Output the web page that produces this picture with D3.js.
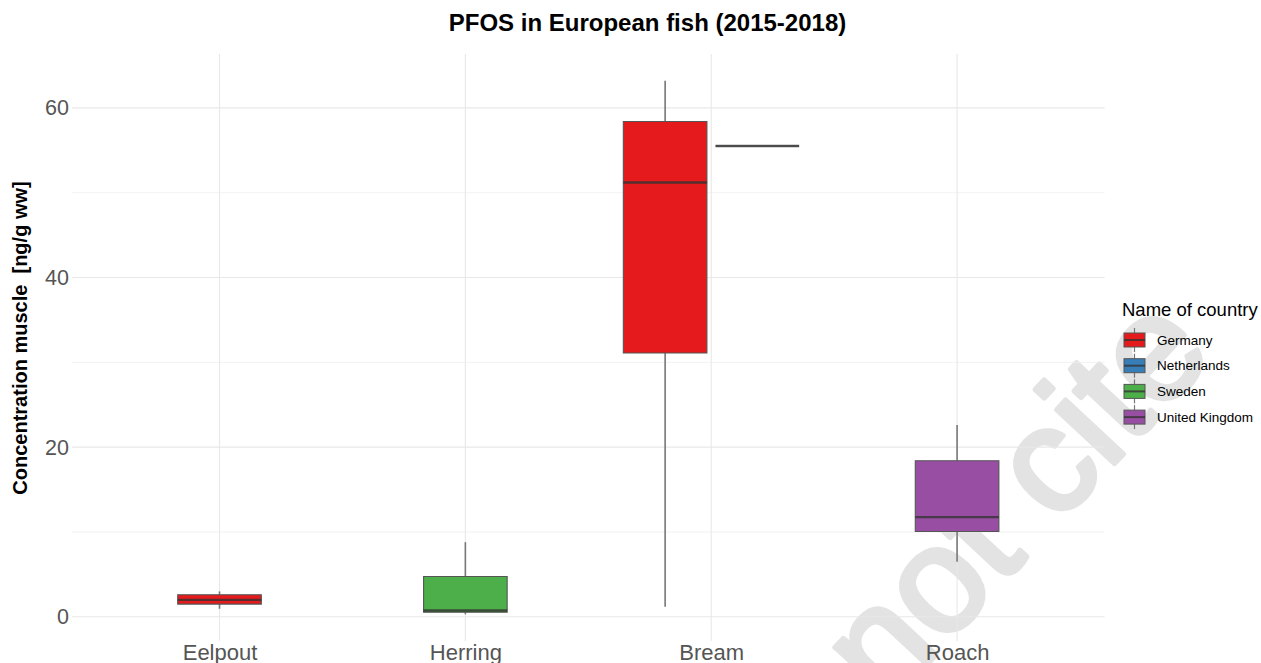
<!DOCTYPE html>
<html>
<head>
<meta charset="utf-8">
<script src="https://cdn.jsdelivr.net/npm/d3@7"></script>
<style>
  html, body { margin: 0; padding: 0; background: #fff; }
  svg { display: block; font-family: "Liberation Sans", Arial, sans-serif; }
</style>
</head>
<body>
<svg id="chart" width="1261" height="663"></svg>
<script>
// ---- Data ----
const species = ["Eelpout", "Herring", "Bream", "Roach"];
const countries = ["Germany", "Netherlands", "Sweden", "United Kingdom"];
const countryColors = ["#E41A1C", "#377EB8", "#4DAF4A", "#984EA3"];

const boxSpecies = ["Eelpout", "Herring", "Bream", "Bream", "Roach"];
const boxCountry = ["Germany", "Sweden", "Germany", "Netherlands", "United Kingdom"];
const boxDodge = [0, 0, -1, 1, 0]; // dodge slot within species group
const lowerWhisker = [0.95, 0.3, 1.2, 55.5, 6.5];
const q1 = [1.5, 0.55, 31.1, 55.5, 10.05];
const median = [2.0, 0.75, 51.2, 55.5, 11.75];
const q3 = [2.6, 4.75, 58.4, 55.5, 18.4];
const upperWhisker = [3.0, 8.8, 63.2, 55.5, 22.6];

const yMajorTicks = [0, 20, 40, 60];
const yMinorTicks = [10, 30, 50];

const titleText = "PFOS in European fish (2015-2018)";
const yTitleText = "Concentration muscle  [ng/g ww]";
const legendTitle = "Name of country";
const watermarkText = "not cite";

// ---- Layout ----
const svg = d3.select("#chart");
const panel = { left: 72, right: 1104.6, top: 54, bottom: 641 };

const x = d3.scalePoint().domain(species).range([panel.left, panel.right]).padding(0.6);
const step = x.step();
const y = d3.scaleLinear().domain([-2.85, 66.35]).range([panel.bottom, panel.top]);
const color = d3.scaleOrdinal().domain(countries).range(countryColors);

// watermark
svg.append("text")
  .attr("transform", "translate(1022,505) rotate(-47)")
  .attr("text-anchor", "middle")
  .attr("dominant-baseline", "middle")
  .style("font-size", "150px")
  .style("fill", "#e3e3e3")
  .style("stroke", "#e3e3e3")
  .style("stroke-width", 5)
  .style("stroke-linejoin", "round")
  .text(watermarkText);

// gridlines
const grid = svg.append("g");
grid.selectAll(".minor").data(yMinorTicks).join("line")
  .attr("x1", panel.left).attr("x2", panel.right)
  .attr("y1", d => y(d)).attr("y2", d => y(d))
  .attr("stroke", "#efefef").attr("stroke-width", 0.8);
grid.selectAll(".major").data(yMajorTicks).join("line")
  .attr("x1", panel.left).attr("x2", panel.right)
  .attr("y1", d => y(d)).attr("y2", d => y(d))
  .attr("stroke", "#e8e8e8").attr("stroke-width", 1.1);
grid.selectAll(".vmajor").data(species).join("line")
  .attr("x1", d => x(d)).attr("x2", d => x(d))
  .attr("y1", panel.top).attr("y2", panel.bottom)
  .attr("stroke", "#e8e8e8").attr("stroke-width", 1.1);

// y axis
const yAxis = d3.axisLeft(y).tickValues(yMajorTicks).tickSize(0).tickPadding(3);
const gy = svg.append("g").attr("transform", `translate(${panel.left},0)`).call(yAxis);
gy.select(".domain").remove();
gy.selectAll("text").style("font-size", "21.5px").style("fill", "#555").style("font-family", "Liberation Sans, Arial, sans-serif");

// x axis
const xAxis = d3.axisBottom(x).tickSize(0).tickPadding(0);
const gx = svg.append("g").attr("transform", `translate(0,${panel.bottom})`).call(xAxis);
gx.select(".domain").remove();
gx.selectAll("text").attr("dy", null).attr("y", 19).style("font-size", "22px").style("fill", "#555").style("font-family", "Liberation Sans, Arial, sans-serif");

// boxes
const boxW = step * 0.34;
const dodgeOff = step * 0.1875;
const boxes = d3.range(boxSpecies.length).map(i => ({
  cx: x(boxSpecies[i]) + boxDodge[i] * dodgeOff,
  c: boxCountry[i], lw: lowerWhisker[i], q1: q1[i], med: median[i], q3: q3[i], uw: upperWhisker[i]
}));
const gb = svg.append("g");
boxes.forEach(b => {
  const g = gb.append("g");
  g.append("line").attr("x1", b.cx).attr("x2", b.cx).attr("y1", y(b.uw)).attr("y2", y(b.q3))
    .attr("stroke", "#777").attr("stroke-width", 1.6);
  g.append("line").attr("x1", b.cx).attr("x2", b.cx).attr("y1", y(b.q1)).attr("y2", y(b.lw))
    .attr("stroke", "#777").attr("stroke-width", 1.6);
  g.append("path")
    .attr("d", `M${b.cx - boxW/2},${y(b.q3)}H${b.cx + boxW/2}V${y(b.q1)}H${b.cx - boxW/2}Z`)
    .attr("fill", color(b.c)).attr("stroke", "#555").attr("stroke-width", 1.1);
  g.append("line").attr("x1", b.cx - boxW/2).attr("x2", b.cx + boxW/2)
    .attr("y1", y(b.med)).attr("y2", y(b.med))
    .attr("stroke", "#333").attr("stroke-opacity", 0.8).attr("stroke-width", 2.4);
});

// title
svg.append("text").attr("x", 647.5).attr("y", 31).attr("text-anchor", "middle")
  .style("font-size", "24px").style("font-weight", "bold").style("fill", "#000")
  .text(titleText);

// y title
svg.append("text").attr("transform", "translate(27,338) rotate(-90)").attr("text-anchor", "middle")
  .style("font-size", "20px").style("font-weight", "bold").style("fill", "#000")
  .style("white-space", "pre")
  .text(yTitleText);

// legend
const lg = svg.append("g");
lg.append("text").attr("x", 1122).attr("y", 316).style("font-size", "18.5px").style("fill", "#000").text(legendTitle);
const items = lg.selectAll(".item").data(countries).join("g")
  .attr("transform", (d, i) => `translate(1124,${340 + i * 25.7})`);
items.append("line").attr("x1", 10.5).attr("x2", 10.5).attr("y1", -12).attr("y2", 12)
  .attr("stroke", "#777").attr("stroke-width", 1.2);
items.append("rect").attr("x", 0).attr("y", -7).attr("width", 21).attr("height", 14)
  .attr("fill", d => color(d)).attr("stroke", "#555").attr("stroke-width", 1);
items.append("line").attr("x1", 0).attr("x2", 21).attr("y1", 0).attr("y2", 0)
  .attr("stroke", "#333").attr("stroke-opacity", 0.8).attr("stroke-width", 2);
items.append("text").attr("x", 33).attr("y", 4.5).style("font-size", "13.5px").style("fill", "#000").text(d => d);
</script>
</body>
</html>
